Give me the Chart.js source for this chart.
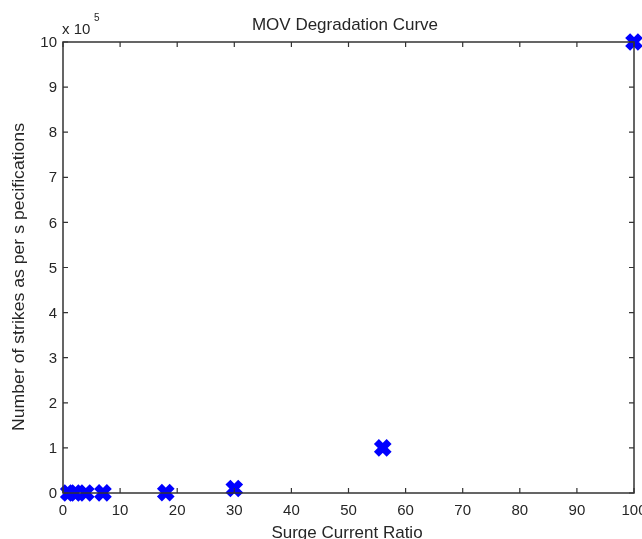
<!DOCTYPE html>
<html>
<head>
<meta charset="utf-8">
<script src="https://cdn.jsdelivr.net/npm/chart.js@4/dist/chart.umd.min.js"></script>
<style>
  html, body { margin: 0; padding: 0; background: #fff; }
</style>
</head>
<body>
<canvas id="chart" width="642" height="539"></canvas>
<script>
// --- Data ---
const surgeRatio = [1, 2, 4, 7, 18, 30, 56, 100];
const strikes = [10, 20, 50, 100, 1000, 10000, 100000, 1000000];
const xTicks = [0, 10, 20, 30, 40, 50, 60, 70, 80, 90, 100];
const yTicks = [0, 1, 2, 3, 4, 5, 6, 7, 8, 9, 10]; // x 10^5

const FONT = '"Liberation Sans", Arial, sans-serif';
const TEXT = '#262626';
const AXIS = '#333';

function text(ctx, txt, x, y, align, size) {
  ctx.font = size + 'px ' + FONT;
  ctx.textBaseline = 'middle';
  ctx.textAlign = align;
  ctx.fillText(txt, x, y);
}

// --- Box, inside ticks and labels (MATLAB look) ---
const matlabFrame = {
  id: 'matlabFrame',
  afterDraw(chart) {
    const { ctx, chartArea: a, scales } = chart;
    const xs = scales.x, ys = scales.y;
    ctx.save();
    ctx.strokeStyle = AXIS;
    ctx.lineWidth = 1.5;
    ctx.strokeRect(a.left, a.top, a.right - a.left, a.bottom - a.top);

    ctx.lineWidth = 1.2;
    ctx.beginPath();
    xTicks.forEach(t => {
      const px = xs.getPixelForValue(t);
      ctx.moveTo(px, a.bottom); ctx.lineTo(px, a.bottom - 5);
      ctx.moveTo(px, a.top); ctx.lineTo(px, a.top + 5);
    });
    yTicks.forEach(t => {
      const py = ys.getPixelForValue(t * 1e5);
      ctx.moveTo(a.left, py); ctx.lineTo(a.left + 5, py);
      ctx.moveTo(a.right, py); ctx.lineTo(a.right - 5, py);
    });
    ctx.stroke();

    ctx.fillStyle = TEXT;
    xTicks.forEach(t => text(ctx, String(t), xs.getPixelForValue(t), 511, 'center', 15));
    yTicks.forEach(t => text(ctx, String(t), 57, ys.getPixelForValue(t * 1e5) + 1, 'right', 15));

    text(ctx, 'MOV Degradation Curve', 345, 25, 'center', 17);
    text(ctx, 'Surge Current Ratio', 347, 533, 'center', 17);
    text(ctx, 'x 10', 62, 30, 'left', 15);
    text(ctx, '5', 94, 18, 'left', 10);

    // y axis title
    const yTitle = 'Number of strikes as per s pecifications';
    ctx.save();
    ctx.font = '17px ' + FONT;
    ctx.textAlign = 'center';
    ctx.textBaseline = 'middle';
    ctx.translate(19, 277);
    ctx.rotate(-Math.PI / 2);
    const w = ctx.measureText(yTitle).width;
    ctx.scale(308 / w, 1);
    ctx.fillText(yTitle, 0, 0);
    ctx.restore();
    ctx.restore();
  }
};

new Chart(document.getElementById('chart'), {
  type: 'scatter',
  data: {
    datasets: [{
      label: 'MOV',
      data: surgeRatio.map((x, i) => ({ x, y: strikes[i] })),
      pointStyle: 'crossRot',
      pointRadius: 9,
      pointBorderWidth: 7,
      borderColor: '#0000ff',
      backgroundColor: '#0000ff',
      clip: false
    }]
  },
  options: {
    responsive: false,
    animation: false,
    layout: { autoPadding: false, padding: { top: 42, right: 8, left: 0, bottom: 0 } },
    plugins: { legend: { display: false }, title: { display: false }, tooltip: { enabled: false } },
    scales: {
      x: {
        type: 'linear', min: 0, max: 100,
        afterBuildTicks: s => { s.ticks = xTicks.map(v => ({ value: v })); },
        afterFit: s => { s.height = 46; },
        grid: { display: false, drawTicks: false },
        border: { display: false },
        ticks: { display: false }
      },
      y: {
        type: 'linear', min: 0, max: 1e6,
        afterBuildTicks: s => { s.ticks = yTicks.map(v => ({ value: v * 1e5 })); },
        afterFit: s => { s.width = 63; },
        grid: { display: false, drawTicks: false },
        border: { display: false },
        ticks: { display: false }
      }
    }
  },
  plugins: [matlabFrame]
});
</script>
</body>
</html>
